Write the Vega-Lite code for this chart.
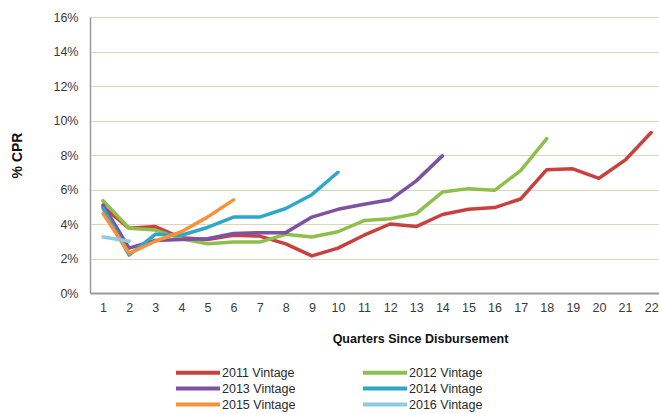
{
  "$schema": "https://vega.github.io/schema/vega-lite/v6.json",
  "width": 569,
  "height": 276,
  "autosize": "none",
  "padding": {"left": 90, "top": 17, "right": 0, "bottom": 121},
  "background": "white",
  "config": {"view": {"stroke": null}, "font": "Liberation Sans"},
  "data": {"values": [
    {"q": 1, "vintage": "2011 Vintage", "cpr": 5.0},
    {"q": 2, "vintage": "2011 Vintage", "cpr": 3.75},
    {"q": 3, "vintage": "2011 Vintage", "cpr": 3.85},
    {"q": 4, "vintage": "2011 Vintage", "cpr": 3.2},
    {"q": 5, "vintage": "2011 Vintage", "cpr": 3.1},
    {"q": 6, "vintage": "2011 Vintage", "cpr": 3.35},
    {"q": 7, "vintage": "2011 Vintage", "cpr": 3.3},
    {"q": 8, "vintage": "2011 Vintage", "cpr": 2.85},
    {"q": 9, "vintage": "2011 Vintage", "cpr": 2.15},
    {"q": 10, "vintage": "2011 Vintage", "cpr": 2.6},
    {"q": 11, "vintage": "2011 Vintage", "cpr": 3.35},
    {"q": 12, "vintage": "2011 Vintage", "cpr": 4.0},
    {"q": 13, "vintage": "2011 Vintage", "cpr": 3.85},
    {"q": 14, "vintage": "2011 Vintage", "cpr": 4.55},
    {"q": 15, "vintage": "2011 Vintage", "cpr": 4.85},
    {"q": 16, "vintage": "2011 Vintage", "cpr": 4.95},
    {"q": 17, "vintage": "2011 Vintage", "cpr": 5.45},
    {"q": 18, "vintage": "2011 Vintage", "cpr": 7.15},
    {"q": 19, "vintage": "2011 Vintage", "cpr": 7.2},
    {"q": 20, "vintage": "2011 Vintage", "cpr": 6.65},
    {"q": 21, "vintage": "2011 Vintage", "cpr": 7.7},
    {"q": 22, "vintage": "2011 Vintage", "cpr": 9.3},
    {"q": 1, "vintage": "2012 Vintage", "cpr": 5.35},
    {"q": 2, "vintage": "2012 Vintage", "cpr": 3.75},
    {"q": 3, "vintage": "2012 Vintage", "cpr": 3.65},
    {"q": 4, "vintage": "2012 Vintage", "cpr": 3.15},
    {"q": 5, "vintage": "2012 Vintage", "cpr": 2.85},
    {"q": 6, "vintage": "2012 Vintage", "cpr": 2.95},
    {"q": 7, "vintage": "2012 Vintage", "cpr": 2.95},
    {"q": 8, "vintage": "2012 Vintage", "cpr": 3.4},
    {"q": 9, "vintage": "2012 Vintage", "cpr": 3.25},
    {"q": 10, "vintage": "2012 Vintage", "cpr": 3.55},
    {"q": 11, "vintage": "2012 Vintage", "cpr": 4.2},
    {"q": 12, "vintage": "2012 Vintage", "cpr": 4.3},
    {"q": 13, "vintage": "2012 Vintage", "cpr": 4.6},
    {"q": 14, "vintage": "2012 Vintage", "cpr": 5.85},
    {"q": 15, "vintage": "2012 Vintage", "cpr": 6.05},
    {"q": 16, "vintage": "2012 Vintage", "cpr": 5.95},
    {"q": 17, "vintage": "2012 Vintage", "cpr": 7.1},
    {"q": 18, "vintage": "2012 Vintage", "cpr": 8.95},
    {"q": 1, "vintage": "2013 Vintage", "cpr": 5.1},
    {"q": 2, "vintage": "2013 Vintage", "cpr": 2.6},
    {"q": 3, "vintage": "2013 Vintage", "cpr": 3.05},
    {"q": 4, "vintage": "2013 Vintage", "cpr": 3.1},
    {"q": 5, "vintage": "2013 Vintage", "cpr": 3.15},
    {"q": 6, "vintage": "2013 Vintage", "cpr": 3.45},
    {"q": 7, "vintage": "2013 Vintage", "cpr": 3.5},
    {"q": 8, "vintage": "2013 Vintage", "cpr": 3.5},
    {"q": 9, "vintage": "2013 Vintage", "cpr": 4.4},
    {"q": 10, "vintage": "2013 Vintage", "cpr": 4.85},
    {"q": 11, "vintage": "2013 Vintage", "cpr": 5.15},
    {"q": 12, "vintage": "2013 Vintage", "cpr": 5.4},
    {"q": 13, "vintage": "2013 Vintage", "cpr": 6.5},
    {"q": 14, "vintage": "2013 Vintage", "cpr": 7.95},
    {"q": 1, "vintage": "2014 Vintage", "cpr": 4.9},
    {"q": 2, "vintage": "2014 Vintage", "cpr": 2.2},
    {"q": 3, "vintage": "2014 Vintage", "cpr": 3.4},
    {"q": 4, "vintage": "2014 Vintage", "cpr": 3.35},
    {"q": 5, "vintage": "2014 Vintage", "cpr": 3.8},
    {"q": 6, "vintage": "2014 Vintage", "cpr": 4.4},
    {"q": 7, "vintage": "2014 Vintage", "cpr": 4.4},
    {"q": 8, "vintage": "2014 Vintage", "cpr": 4.9},
    {"q": 9, "vintage": "2014 Vintage", "cpr": 5.7},
    {"q": 10, "vintage": "2014 Vintage", "cpr": 7.0},
    {"q": 1, "vintage": "2015 Vintage", "cpr": 4.6},
    {"q": 2, "vintage": "2015 Vintage", "cpr": 2.3},
    {"q": 3, "vintage": "2015 Vintage", "cpr": 3.0},
    {"q": 4, "vintage": "2015 Vintage", "cpr": 3.55},
    {"q": 5, "vintage": "2015 Vintage", "cpr": 4.4},
    {"q": 6, "vintage": "2015 Vintage", "cpr": 5.4},
    {"q": 1, "vintage": "2016 Vintage", "cpr": 3.25},
    {"q": 2, "vintage": "2016 Vintage", "cpr": 3.0}
  ]},
  "mark": {"type": "line", "strokeWidth": 3.5, "strokeCap": "round", "strokeJoin": "round"},
  "encoding": {
    "x": {
      "field": "q", "type": "quantitative",
      "scale": {"domain": [0.5, 22.3], "nice": false, "zero": false},
      "axis": {
        "values": [1,2,3,4,5,6,7,8,9,10,11,12,13,14,15,16,17,18,19,20,21,22],
        "grid": false, "ticks": false,
        "domainColor": "#9a9a9a", "domainWidth": 2,
        "labelFontSize": 12.5, "labelColor": "#3a3a3a", "labelPadding": 8,
        "title": "Quarters Since Disbursement",
        "titleFontSize": 12.5, "titleFontWeight": "bold", "titleColor": "#111111",
        "titlePadding": 19, "titleX": 330
      }
    },
    "y": {
      "field": "cpr", "type": "quantitative",
      "scale": {"domain": [0, 16], "nice": false},
      "axis": {
        "values": [0,2,4,6,8,10,12,14,16],
        "labelExpr": "datum.value + '%'",
        "gridColor": "#ddd5ba", "gridWidth": 1.2,
        "ticks": false,
        "domainColor": "#9a9a9a", "domainWidth": 1.5,
        "labelFontSize": 12.5, "labelColor": "#3a3a3a", "labelPadding": 12,
        "title": "% CPR",
        "titleFontSize": 14, "titleFontWeight": "bold", "titleColor": "#111111",
        "titlePadding": 28
      }
    },
    "color": {
      "field": "vintage", "type": "nominal",
      "scale": {
        "domain": ["2011 Vintage", "2012 Vintage", "2013 Vintage", "2014 Vintage", "2015 Vintage", "2016 Vintage"],
        "range": ["#c8413f", "#8dc04a", "#7e52a3", "#2ea8c9", "#f79239", "#8ecbe0"]
      },
      "legend": {
        "orient": "none", "legendX": 84, "legendY": 348,
        "columns": 2, "direction": "horizontal",
        "title": null,
        "symbolType": "M-1,0H7", "symbolSize": 121, "symbolStrokeWidth": 4,
        "labelFontSize": 12.5, "labelColor": "#2a2a2a", "labelOffset": 33,
        "columnPadding": 59, "rowPadding": -2.5
      }
    }
  }
}
